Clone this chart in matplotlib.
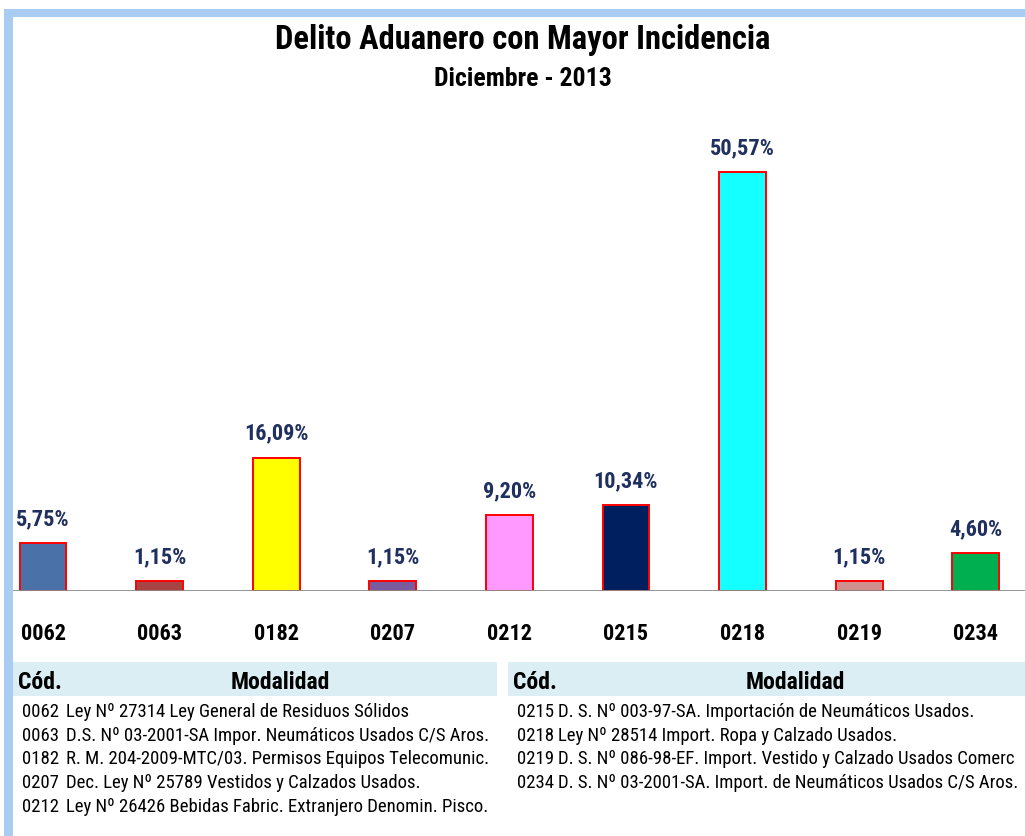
import matplotlib
matplotlib.use("Agg")
import matplotlib.pyplot as plt
from matplotlib.patches import Rectangle
from matplotlib import font_manager

codes = ["0062", "0063", "0182", "0207", "0212", "0215", "0218", "0219", "0234"]
values = [5.75, 1.15, 16.09, 1.15, 9.20, 10.34, 50.57, 1.15, 4.60]
value_labels = ["5,75%", "1,15%", "16,09%", "1,15%", "9,20%", "10,34%", "50,57%", "1,15%", "4,60%"]
bar_colors = ["#4A72A8", "#A94444", "#FFFF00", "#7A5C9E", "#FF99FF",
              "#001F5F", "#14FFFF", "#D09090", "#00B050"]

left_codes = ["0062", "0063", "0182", "0207", "0212"]
left_desc = ["Ley Nº 27314 Ley General de Residuos Sólidos",
             "D.S. Nº 03-2001-SA Impor. Neumáticos Usados C/S Aros.",
             "R. M. 204-2009-MTC/03. Permisos Equipos Telecomunic.",
             "Dec. Ley Nº 25789 Vestidos y Calzados Usados.",
             "Ley Nº 26426 Bebidas Fabric. Extranjero Denomin. Pisco."]
right_codes = ["0215", "0218", "0219", "0234"]
right_desc = ["D. S. Nº 003-97-SA. Importación de Neumáticos Usados.",
              "Ley Nº 28514 Import. Ropa y Calzado Usados.",
              "D. S. Nº 086-98-EF. Import. Vestido y Calzado Usados Comerc",
              "D. S. Nº 03-2001-SA. Import. de Neumáticos Usados C/S Aros."]

fonts = font_manager.fontManager.ttflist
def has_bold(name):
    return any(f.name == name and f.weight in (700, "bold") for f in fonts)
FONT = "DejaVu Sans"
for cand in ["Liberation Sans Narrow", "Roboto Condensed", "Arimo Narrow",
             "Archivo Narrow", "Barlow Semi Condensed"]:
    if has_bold(cand):
        FONT = cand
        break
plt.rcParams["font.family"] = [FONT, "DejaVu Sans"]
if FONT == "DejaVu Sans":
    plt.rcParams["font.stretch"] = "condensed"

W, H = 1025, 837
fig = plt.figure(figsize=(W / 100, H / 100), dpi=100)
fig.patch.set_facecolor("white")

def fx(px):
    return px / W

def fy(py):
    return 1 - py / H

# light blue frame on left and top
fig.patches.append(Rectangle((fx(4), 0), fx(9), fy(10), transform=fig.transFigure,
                             facecolor="#A9CCF2", edgecolor="none", zorder=-1))
fig.patches.append(Rectangle((fx(4), fy(18)), 1, 8 / H, transform=fig.transFigure,
                             facecolor="#A9CCF2", edgecolor="none", zorder=-1))

# bar axes
px_step = 116.6
x0 = 43
ax_left, ax_right = 13, 1025
base_y, top_y = 592, 120
scale = (592 - 173) / 50.57
ax = fig.add_axes([fx(ax_left), fy(base_y), fx(ax_right - ax_left), (base_y - top_y) / H])
ax.set_xlim((ax_left - x0) / px_step, (ax_right - x0) / px_step)
ax.set_ylim(0, (base_y - top_y) / scale)
ax.set_facecolor("none")
xs = list(range(len(codes)))
ax.bar(xs, values, width=0.40, color=bar_colors, edgecolor="#FF0000", linewidth=1.4, zorder=2)
ax.axhline(0, color="#8C8C8C", linewidth=2, zorder=3)
for x, v, lab in zip(xs, values, value_labels):
    ax.annotate(lab, (x, v), xytext=(0, 10), textcoords="offset points", ha="center",
                va="bottom", fontsize=16, fontweight="bold", color="#1F2F5F")
for s in ax.spines.values():
    s.set_visible(False)
ax.set_yticks([])
ax.set_xticks(xs)
ax.set_xticklabels(codes, fontsize=16, fontweight="bold", color="black")
ax.tick_params(axis="x", length=0, pad=22)

# titles
fig.text(fx(523), fy(40), "Delito Aduanero con Mayor Incidencia", ha="center", va="center",
         fontsize=23.5, fontweight="bold", color="black")
fig.text(fx(523), fy(79), "Diciembre - 2013", ha="center", va="center",
         fontsize=18.5, fontweight="bold", color="black")

# tables
def table(x_left, x_right, code_x, desc_x, mod_x, codes_list, desc_list):
    fig.patches.append(Rectangle((fx(x_left), fy(697)), fx(x_right - x_left), 34 / H,
                                 transform=fig.transFigure, facecolor="#DAEEF3",
                                 edgecolor="none", zorder=-1))
    fig.text(fx(x_left + 5), fy(683), "Cód.", ha="left", va="center", fontsize=17,
             fontweight="bold", color="black")
    fig.text(fx(mod_x), fy(683), "Modalidad", ha="center", va="center", fontsize=17,
             fontweight="bold", color="black")
    for i, (c, d) in enumerate(zip(codes_list, desc_list)):
        y = 712 + i * 23.7
        fig.text(fx(code_x), fy(y), c, ha="left", va="center", fontsize=13.5, color="black")
        fig.text(fx(desc_x), fy(y), d, ha="left", va="center", fontsize=13.5, color="black")

table(13, 497, 22, 66, 280, left_codes, left_desc)
table(508, 1025, 517, 558, 795, right_codes, right_desc)

fig.savefig("out.png", dpi=100)
